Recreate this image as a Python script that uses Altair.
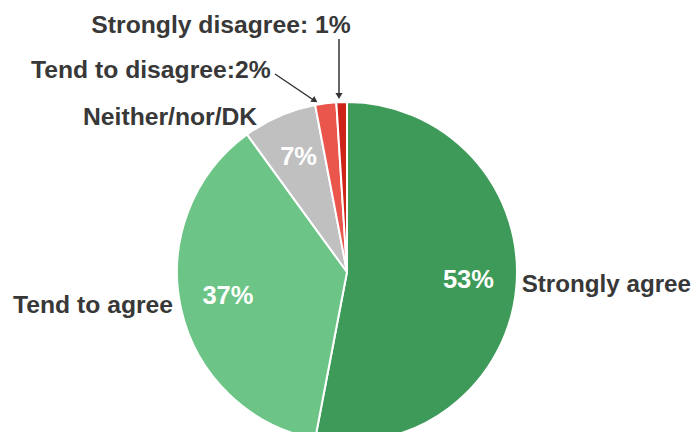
import altair as alt
import pandas as pd

categories = ["Strongly agree", "Tend to agree", "Neither/nor/DK", "Tend to disagree", "Strongly disagree"]
values = [53, 37, 7, 2, 1]
colors = ["#3d9a58", "#6cc586", "#c0c0c0", "#ea554c", "#cc2419"]

df = pd.DataFrame({
    "category": categories,
    "value": values,
    "idx": list(range(len(categories))),
    "pct": [f"{v}%" if v >= 5 else "" for v in values],
})

CX, CY, R = 339, 264, 170
FONT = "Liberation Sans"
TXT = "#383838"

base = alt.Chart(df).encode(
    theta=alt.Theta("value:Q", stack=True),
    order=alt.Order("idx:Q"),
)

pie = base.mark_arc(outerRadius=R, stroke="white", strokeWidth=2).encode(
    color=alt.Color("category:N", scale=alt.Scale(domain=categories, range=colors), legend=None),
    x=alt.value(CX), y=alt.value(CY),
)

pct = base.mark_text(radius=122, font=FONT, fontSize=25.5, fontWeight="bold",
                     color="white", baseline="middle", align="center", dy=-3).encode(
    text="pct:N", x=alt.value(CX), y=alt.value(CY),
)

# annotation labels (text, x, y, align, size)
annotations = [
    ("Strongly disagree: 1%", 213, 25, "left", 24.7),
    ("Tend to disagree:2%", 23, 70, "left", 24.7),
    ("Neither/nor/DK", 75, 117, "left", 24.7),
    ("Tend to agree", 5, 305, "left", 24.7),
    ("Strongly agree", 683, 284, "right", 24.2),
]

layers = [pie, pct]
for t, x, y, a, s in annotations:
    if t.startswith("Strongly disagree"):
        x, a = 213, "center"
    layers.append(
        alt.Chart(df).mark_text(text=t, font=FONT, fontSize=s, fontWeight="bold",
                                color=TXT, align=a, baseline="alphabetic").encode(
            x=alt.value(x), y=alt.value(y)
        ).transform_filter(alt.datum.idx == 0)
    )

# arrows
arrow_rules = [
    (267, 66, 307, 93),
    (331, 31, 331, 86),
]
for x1, y1, x2, y2 in arrow_rules:
    layers.append(
        alt.Chart(df).mark_rule(color="#333333", strokeWidth=1.5).encode(
            x=alt.value(x1), y=alt.value(y1), x2=alt.value(x2), y2=alt.value(y2)
        ).transform_filter(alt.datum.idx == 0)
    )
heads = [(306, 92, 124), (331, 87, 180)]
for x, y, ang in heads:
    layers.append(
        alt.Chart(df).mark_point(shape="triangle", filled=True, color="#333333",
                                 size=50, angle=ang, opacity=1).encode(
            x=alt.value(x), y=alt.value(y)
        ).transform_filter(alt.datum.idx == 0)
    )

chart = alt.layer(*layers).properties(
    width=684, height=424, padding=0, autosize="none"
).configure_view(stroke=None)

chart.save("out.html", embed_options={"renderer": "svg", "actions": False})
